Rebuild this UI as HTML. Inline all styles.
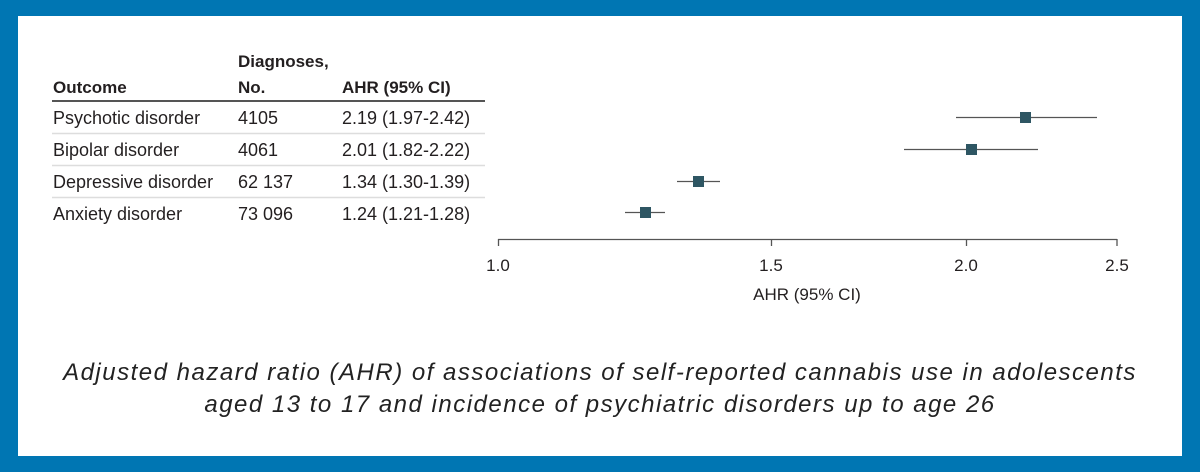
<!DOCTYPE html>
<html><head><meta charset="utf-8"><style>
html,body{margin:0;padding:0}
body{width:1200px;height:472px;background:#0076b3;position:relative;overflow:hidden;font-family:"Liberation Sans",sans-serif;color:#231f20}
#w{position:absolute;left:18px;top:16px;width:1164px;height:440px;background:#fff}
.t{position:absolute;font-size:18px;white-space:nowrap;line-height:1}
.b{font-weight:bold;font-size:17px}
.cap{position:absolute;left:0;width:1200px;text-align:center;font-style:italic;font-size:24px;letter-spacing:1.5px;color:#222;line-height:1}
</style></head><body>
<div id="w"></div>
<div class="t b" style="left:238px;top:53px">Diagnoses,</div>
<div class="t b" style="left:53px;top:79px">Outcome</div>
<div class="t b" style="left:238px;top:79px">No.</div>
<div class="t b" style="left:342px;top:79px">AHR (95% CI)</div>
<div class="t" style="left:53px;top:109px">Psychotic disorder</div>
<div class="t" style="left:238px;top:109px">4105</div>
<div class="t" style="left:342px;top:109px">2.19 (1.97-2.42)</div>
<div class="t" style="left:53px;top:141px">Bipolar disorder</div>
<div class="t" style="left:238px;top:141px">4061</div>
<div class="t" style="left:342px;top:141px">2.01 (1.82-2.22)</div>
<div class="t" style="left:53px;top:173px">Depressive disorder</div>
<div class="t" style="left:238px;top:173px">62 137</div>
<div class="t" style="left:342px;top:173px">1.34 (1.30-1.39)</div>
<div class="t" style="left:53px;top:205px">Anxiety disorder</div>
<div class="t" style="left:238px;top:205px">73 096</div>
<div class="t" style="left:342px;top:205px">1.24 (1.21-1.28)</div>
<svg style="position:absolute;left:0;top:0" width="1200" height="472">
<line x1="52" y1="101" x2="485" y2="101" stroke="#555" stroke-width="2"/>
<g stroke="#ddd" stroke-width="1.5">
<line x1="52" y1="133.5" x2="485" y2="133.5"/>
<line x1="52" y1="165.5" x2="485" y2="165.5"/>
<line x1="52" y1="197.5" x2="485" y2="197.5"/>
</g>
<g stroke="#555" stroke-width="1.3" fill="none">
<line x1="498" y1="239.5" x2="1117" y2="239.5"/>
<line x1="498.5" y1="239" x2="498.5" y2="246"/>
<line x1="771.5" y1="239" x2="771.5" y2="246"/>
<line x1="966.5" y1="239" x2="966.5" y2="246"/>
<line x1="1117" y1="239" x2="1117" y2="246"/>
<line x1="956" y1="117.5" x2="1097" y2="117.5"/>
<line x1="904" y1="149.5" x2="1038" y2="149.5"/>
<line x1="677" y1="181.5" x2="720" y2="181.5"/>
<line x1="625" y1="212.5" x2="665" y2="212.5"/>
</g>
<g fill="#2e5663">
<rect x="1020" y="112" width="11" height="11"/>
<rect x="966" y="144" width="11" height="11"/>
<rect x="693" y="176" width="11" height="11"/>
<rect x="640" y="207" width="11" height="11"/>
</g>
<g font-family="Liberation Sans,sans-serif" font-size="17" fill="#231f20" text-anchor="middle">
<text x="498" y="271">1.0</text>
<text x="771" y="271">1.5</text>
<text x="966" y="271">2.0</text>
<text x="1117" y="271">2.5</text>
<text x="807" y="300">AHR (95% CI)</text>
</g>
</svg>
<div class="cap" style="top:361px">Adjusted hazard ratio (AHR) of associations of self-reported cannabis use in adolescents</div>
<div class="cap" style="top:393px">aged 13 to 17 and incidence of psychiatric disorders up to age 26</div>
</body></html>
